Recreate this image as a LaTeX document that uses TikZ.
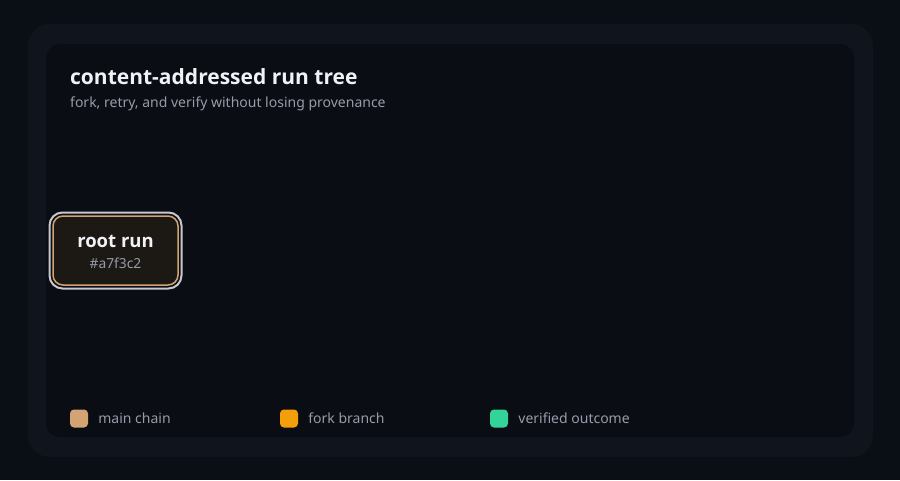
\documentclass[tikz,border=0pt]{standalone}
\usepackage{fontspec}
\setmainfont{Noto Sans}
\newfontfamily\headfont{Open Sans}
\usetikzlibrary{positioning}
\definecolor{night}{RGB}{10, 14, 21}
\definecolor{card}{RGB}{16, 20, 28}
\definecolor{panel}{RGB}{10, 13, 20}
\definecolor{ink}{RGB}{240, 242, 246}
\definecolor{muted}{RGB}{150, 156, 168}
\definecolor{tan}{RGB}{212, 163, 115}
\definecolor{amber}{RGB}{245, 158, 11}
\definecolor{mint}{RGB}{52, 211, 153}
\definecolor{ring}{RGB}{200, 200, 204}
\definecolor{runfill}{RGB}{28, 24, 20}

\begin{document}
\begin{tikzpicture}
  [
    x=1pt, y=-1pt,
    title/.style={anchor=base west, inner sep=0pt, text=ink, font=\headfont\bfseries\fontsize{21}{24}\selectfont},
    subtitle/.style={anchor=base west, inner sep=0pt, text=muted, font=\fontsize{14}{16}\selectfont},
    run/.style={draw=tan, line width=1.5pt, fill=runfill, rounded corners=10pt,
      minimum width=125pt, minimum height=69pt},
    swatch/.style={rounded corners=4pt, minimum size=18pt, inner sep=0pt},
    legend/.style={anchor=west, inner sep=0pt, text=muted, font=\fontsize{14}{16}\selectfont}
  ]
  \fill[night] (0, 0) rectangle (900, 480);
  \fill[card, rounded corners=22pt] (28, 24) rectangle (873, 457);
  \fill[panel, rounded corners=14pt] (46, 44) rectangle (854, 437);

  \node[title] (heading) at (70, 84.5) {content-addressed run tree};
  \node[subtitle] (tagline) at (70, 107) {fork, retry, and verify without losing provenance};

  % root of the tree
  \draw[ring, line width=2pt, rounded corners=13pt] (49.5, 212.5) rectangle (181.5, 288.5);
  \node[run] (root) at (115.5, 250.5) {};
  \node[text=ink, font=\headfont\bfseries\fontsize{18.5}{20}\selectfont] (rootname) at (115.5, 241) {root run};
  \node[text=muted, font=\fontsize{13.8}{16}\selectfont] (roothash) at (115.5, 263) {\#a7f3c2};

  % legend
  \node[swatch, fill=tan] (keymain) at (79, 418.5) {};
  \node[legend, right=10pt of keymain] {main chain};
  \node[swatch, fill=amber] (keyfork) at (289, 418.5) {};
  \node[legend, right=10pt of keyfork] {fork branch};
  \node[swatch, fill=mint] (keyverified) at (499, 418.5) {};
  \node[legend, right=10pt of keyverified] {verified outcome};
\end{tikzpicture}
\end{document}
